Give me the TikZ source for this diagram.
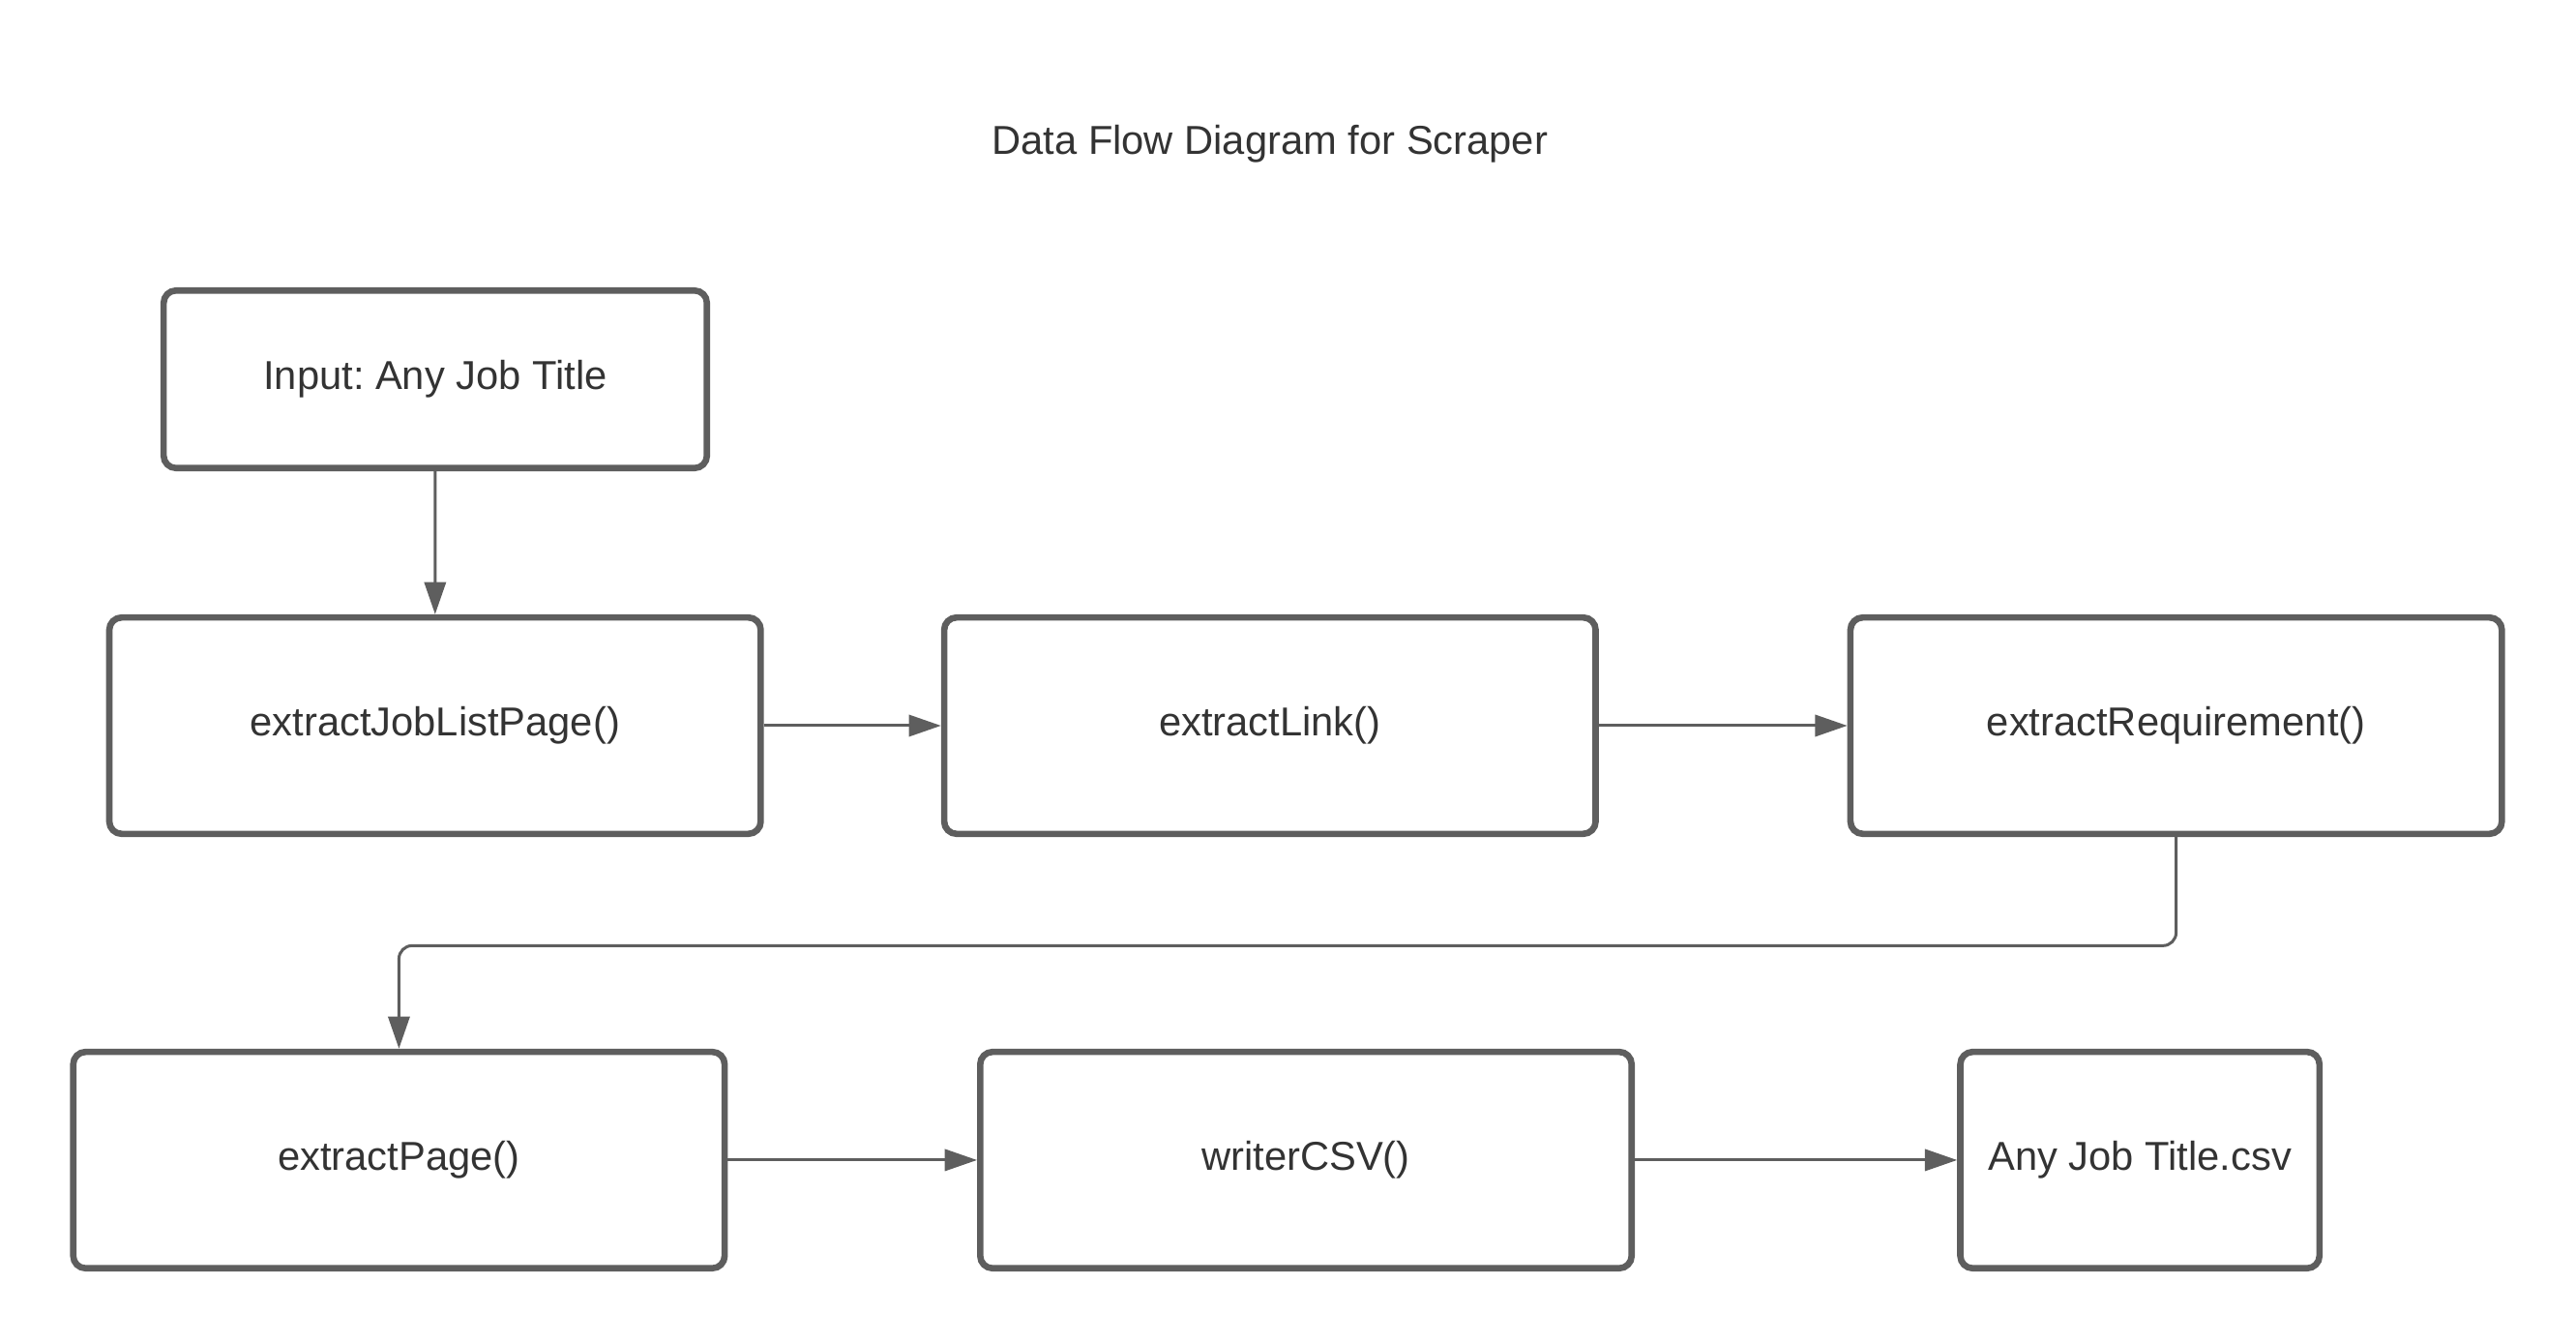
\documentclass[tikz,border=0pt]{standalone}
\usepackage{fontspec}
\setmainfont{Liberation Sans}
\usepackage{tikz}
\usetikzlibrary{arrows.meta}
\definecolor{linegray}{HTML}{5E5E5E}
\definecolor{textgray}{HTML}{333333}
\tikzset{>={Triangle[length=0.39cm,width=0.26cm]}}
\frenchspacing

\begin{document}
\begin{tikzpicture}[auto,
		box/.style={draw=linegray,line width=2.2pt,rounded corners=0.15cm,minimum height=2.62cm,minimum width=7.89cm,align=center,text=textgray,font=\fontsize{13.9}{16}\selectfont},
		flow/.style={->,draw=linegray,line width=1pt}]
			\useasboundingbox (0,0) rectangle (31.2,-16.26);
			\node (title) at (15.38,-1.863) [anchor=base,text=textgray,font=\fontsize{13.9}{16}\selectfont] {Data Flow Diagram for Scraper};
			\node (input) at (5.272,-4.593) [box,minimum width=6.58cm,minimum height=2.15cm] {Input: Any Job Title};
			\node (joblist) at (5.269,-8.787) [box] {extractJobListPage()};
			\node (link) at (15.381,-8.787) [box] {extractLink()};
			\node (req) at (26.357,-8.787) [box] {extractRequirement()};
			\node (page) at (4.832,-14.047) [box] {extractPage()};
			\node (csv) at (15.817,-14.047) [box] {writerCSV()};
			\node (file) at (25.918,-14.047) [box,minimum width=4.35cm] {Any Job Title.csv};
			\draw[flow] (input) to (joblist);
			\draw[flow] (joblist) to (link);
			\draw[flow] (link) to (req);
			\draw[flow,rounded corners=0.16cm] (req.south) -- ++(0,-1.315) -| (page.north);
			\draw[flow] (page) to (csv);
			\draw[flow] (csv) to (file);
		\end{tikzpicture}
\end{document}
